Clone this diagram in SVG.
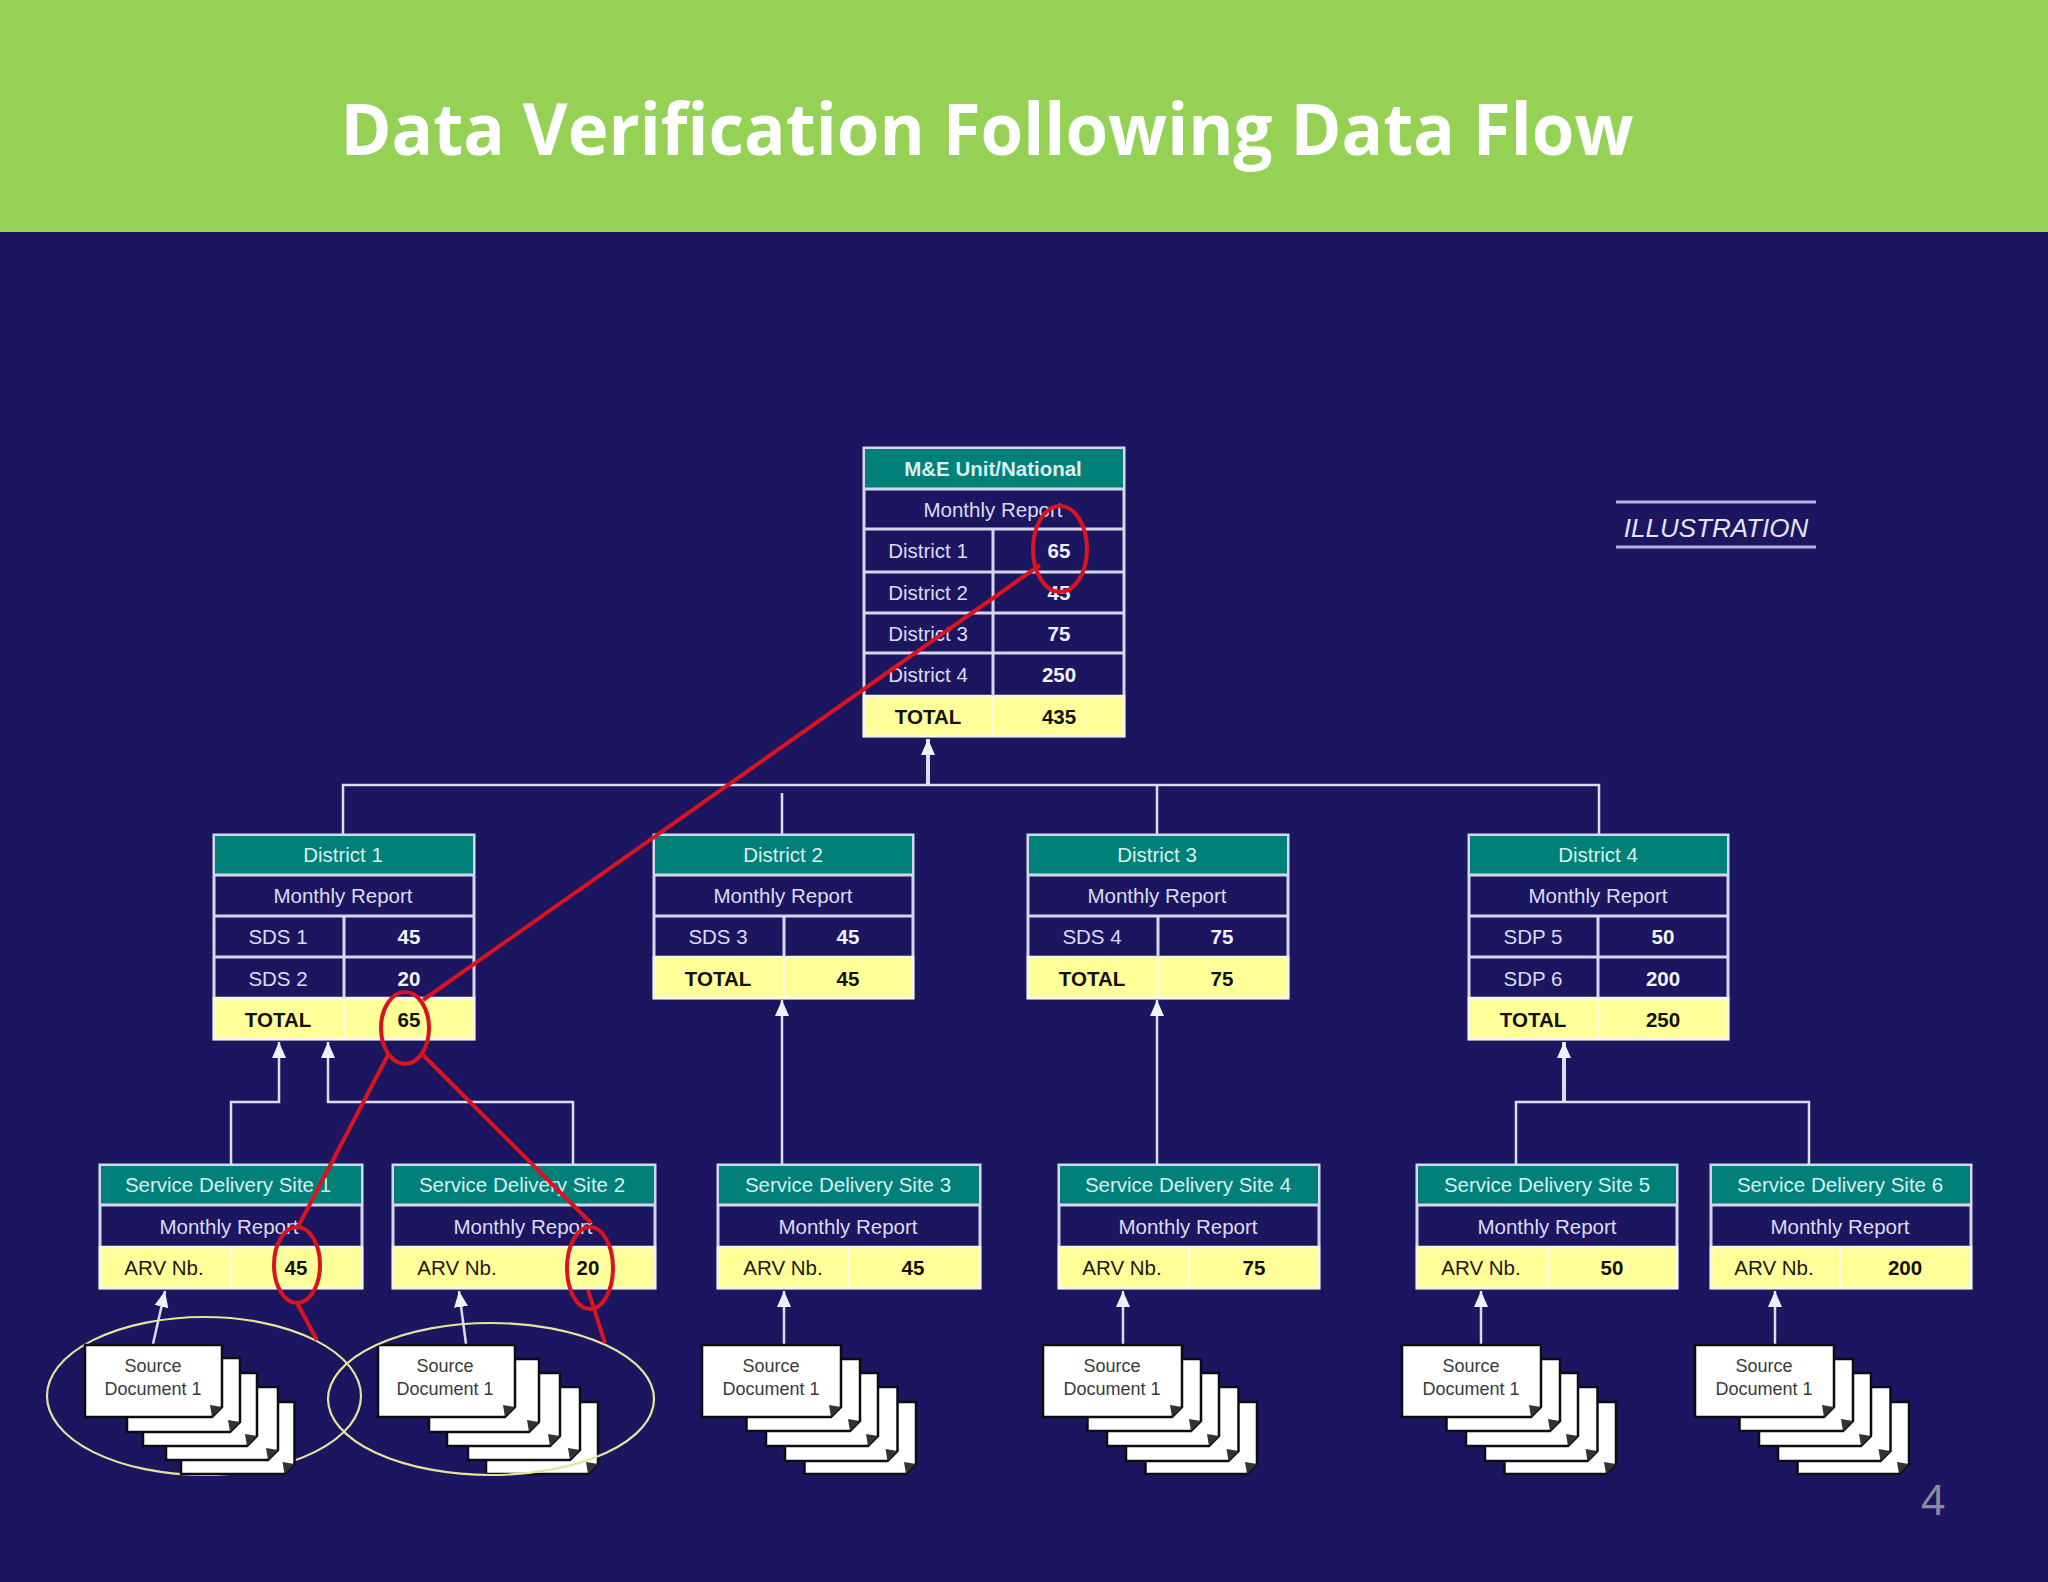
<svg xmlns="http://www.w3.org/2000/svg" width="2048" height="1582" viewBox="0 0 2048 1582">
<style>
text{font-family:"Liberation Sans",Arial,sans-serif;font-size:20.5px;text-anchor:middle;fill:#dcdcf0}
.b{font-weight:bold;fill:#f2f2fa}
.k{fill:#1a1a10}
.kb{font-weight:bold;fill:#111108}
.d{font-size:18px;fill:#3a3a3a}
.hd{fill:#d8f0ee}
.head{fill:#008078}
.yel{fill:#ffff99;stroke:#f6f6ea;stroke-width:2.5}
.frame{fill:#1c1660;stroke:#d6d6ec;stroke-width:3}
.grid{fill:none;stroke:#d6d6ec;stroke-width:3}
.ygrid{fill:none;stroke:#fbfbe4;stroke-width:2}
.sheet{fill:#fff;stroke:#0c0c14;stroke-width:2.5}
.ear{fill:#333}
.conn{fill:none;stroke:#dcdcf2;stroke-width:2.5}
.thick{stroke-width:4}
.red{fill:none;stroke:#d81420;stroke-width:4}
.oval{fill:none;stroke:#e6e49c;stroke-width:2.2}
</style>
<defs>
<marker id="arrow" markerUnits="userSpaceOnUse" markerWidth="17" markerHeight="16" refX="16" refY="8" orient="auto" viewBox="0 0 17 16"><path d="M16 8L0 1V15Z" fill="#f0f0fa"/></marker>
<g id="stack-std">
<path class="sheet" d="M102.500 57H214V119L204 129H102.500Z"/><path class="ear" d="M214 119L204 129L202 117Z"/>
<path class="sheet" d="M83 42H195.500V106L185.500 116H83Z"/><path class="ear" d="M195.500 106L185.500 116L183.500 104Z"/>
<path class="sheet" d="M64 28H176V91L166 101H64Z"/><path class="ear" d="M176 91L166 101L164 89Z"/>
<path class="sheet" d="M44.500 14H158V76L148 86H44.500Z"/><path class="ear" d="M158 76L148 86L146 74Z"/>
<path class="sheet" d="M0 0H139V62L129 72H0Z"/><path class="ear" d="M139 62L129 72L127 60Z"/>
</g>
<g id="stack-one">
<path class="sheet" d="M96 57H209.500V119L199.500 129H96Z"/><path class="ear" d="M209.500 119L199.500 129L197.500 117Z"/>
<path class="sheet" d="M81 42H193V105L183 115H81Z"/><path class="ear" d="M193 105L183 115L181 103Z"/>
<path class="sheet" d="M58 28H172V91L162 101H58Z"/><path class="ear" d="M172 91L162 101L160 89Z"/>
<path class="sheet" d="M42 13H155V77L145 87H42Z"/><path class="ear" d="M155 77L145 87L143 75Z"/>
<path class="sheet" d="M0 0H137V62L127 72H0Z"/><path class="ear" d="M137 62L127 72L125 60Z"/>
</g>
<g id="stack-two">
<path class="sheet" d="M108 57H220V119L210 129H108Z"/><path class="ear" d="M220 119L210 129L208 117Z"/>
<path class="sheet" d="M90 42H202V105L192 115H90Z"/><path class="ear" d="M202 105L192 115L190 103Z"/>
<path class="sheet" d="M69 28H182V91L172 101H69Z"/><path class="ear" d="M182 91L172 101L170 89Z"/>
<path class="sheet" d="M51 14H161V77L151 87H51Z"/><path class="ear" d="M161 77L151 87L149 75Z"/>
<path class="sheet" d="M0 0H137V62L127 72H0Z"/><path class="ear" d="M137 62L127 72L125 60Z"/>
</g>
</defs>
<rect id="background" width="2048" height="1582" fill="#1c1660"/>
<rect id="title-band" width="2048" height="232" fill="#95d155"/>
<text id="title" x="987" y="155" textLength="1293" lengthAdjust="spacingAndGlyphs" style="font-family:'Open Sans','Noto Sans',sans-serif;font-size:72px;font-weight:bold;fill:#fff">Data Verification Following Data Flow</text>

<g id="illustration">
<path d="M1616 502H1816M1616 547H1816" fill="none" stroke="#b4b4e0" stroke-width="3"/>
<text x="1716" y="537" style="font-size:26px;font-style:italic;fill:#e4e4f4">ILLUSTRATION</text>
</g>
<text id="page-number" x="1933" y="1515" style="font-family:'Noto Sans',sans-serif;font-size:42px;fill:#8c8c9c">4</text>

<g id="connectors">
<path class="conn" d="M343 834V785H1599V834M1157 785V834M782 793V834"/>
<path class="conn thick" marker-end="url(#arrow)" d="M928 785V739"/>
<path class="conn" marker-end="url(#arrow)" d="M231 1164V1102H279V1042"/>
<path class="conn" marker-end="url(#arrow)" d="M573 1164V1102H328V1042"/>
<path class="conn" marker-end="url(#arrow)" d="M782 1164V1000"/>
<path class="conn" marker-end="url(#arrow)" d="M1157 1164V1000"/>
<path class="conn" d="M1516 1164V1102H1809V1164"/>
<path class="conn thick" marker-end="url(#arrow)" d="M1564 1102V1042"/>
<path class="conn" marker-end="url(#arrow)" d="M153 1344L165 1291"/>
<path class="conn" marker-end="url(#arrow)" d="M466 1344L459 1291"/>
<path class="conn" marker-end="url(#arrow)" d="M784 1344V1291"/>
<path class="conn" marker-end="url(#arrow)" d="M1123 1344V1291"/>
<path class="conn" marker-end="url(#arrow)" d="M1481 1344V1291"/>
<path class="conn" marker-end="url(#arrow)" d="M1775 1344V1291"/>
</g>

<g id="national">
<rect class="frame" x="864" y="448" width="260" height="288"/>
<rect class="head" x="865" y="449" width="258" height="40"/>
<rect class="yel" x="864" y="696" width="260" height="40"/>
<path class="grid" d="M864 489H1124M864 529H1124M864 572H1124M864 613H1124M864 653H1124M993 529V696"/>
<path class="ygrid" d="M993 696V736"/>
<text class="b hd" x="993" y="476">M&amp;E Unit/National</text>
<text x="993" y="517">Monthly Report</text>
<text x="928" y="558">District 1</text><text class="b" x="1059" y="558">65</text>
<text x="928" y="600">District 2</text><text class="b" x="1059" y="600">45</text>
<text x="928" y="641">District 3</text><text class="b" x="1059" y="641">75</text>
<text x="928" y="682">District 4</text><text class="b" x="1059" y="682">250</text>
<text class="kb" x="928" y="724">TOTAL</text><text class="kb" x="1059" y="724">435</text>
</g>

<g id="district-1">
<rect class="frame" x="214" y="835" width="260" height="204"/>
<rect class="head" x="215" y="836" width="258" height="39"/>
<rect class="yel" x="214" y="998" width="260" height="41"/>
<path class="grid" d="M214 875H474M214 916H474M214 957H474M344 916V998"/>
<path class="ygrid" d="M344 998V1039"/>
<text class="hd" x="343" y="862">District 1</text>
<text x="343" y="903">Monthly Report</text>
<text x="278" y="944">SDS 1</text><text class="b" x="409" y="944">45</text>
<text x="278" y="986">SDS 2</text><text class="b" x="409" y="986">20</text>
<text class="kb" x="278" y="1027">TOTAL</text><text class="kb" x="409" y="1027">65</text>
</g>

<g id="district-2">
<rect class="frame" x="654" y="835" width="259" height="163"/>
<rect class="head" x="655" y="836" width="257" height="39"/>
<rect class="yel" x="654" y="957" width="259" height="41"/>
<path class="grid" d="M654 875H913M654 916H913M784 916V957"/>
<path class="ygrid" d="M784 957V998"/>
<text class="hd" x="783" y="862">District 2</text>
<text x="783" y="903">Monthly Report</text>
<text x="718" y="944">SDS 3</text><text class="b" x="848" y="944">45</text>
<text class="kb" x="718" y="986">TOTAL</text><text class="kb" x="848" y="986">45</text>
</g>

<g id="district-3">
<rect class="frame" x="1028" y="835" width="260" height="163"/>
<rect class="head" x="1029" y="836" width="258" height="39"/>
<rect class="yel" x="1028" y="957" width="260" height="41"/>
<path class="grid" d="M1028 875H1288M1028 916H1288M1158 916V957"/>
<path class="ygrid" d="M1158 957V998"/>
<text class="hd" x="1157" y="862">District 3</text>
<text x="1157" y="903">Monthly Report</text>
<text x="1092" y="944">SDS 4</text><text class="b" x="1222" y="944">75</text>
<text class="kb" x="1092" y="986">TOTAL</text><text class="kb" x="1222" y="986">75</text>
</g>

<g id="district-4">
<rect class="frame" x="1469" y="835" width="259" height="204"/>
<rect class="head" x="1470" y="836" width="257" height="39"/>
<rect class="yel" x="1469" y="998" width="259" height="41"/>
<path class="grid" d="M1469 875H1728M1469 916H1728M1469 957H1728M1598 916V998"/>
<path class="ygrid" d="M1598 998V1039"/>
<text class="hd" x="1598" y="862">District 4</text>
<text x="1598" y="903">Monthly Report</text>
<text x="1533" y="944">SDP 5</text><text class="b" x="1663" y="944">50</text>
<text x="1533" y="986">SDP 6</text><text class="b" x="1663" y="986">200</text>
<text class="kb" x="1533" y="1027">TOTAL</text><text class="kb" x="1663" y="1027">250</text>
</g>

<g id="site-1">
<rect class="frame" x="100" y="1165" width="262" height="123"/>
<rect class="head" x="101" y="1166" width="260" height="39"/>
<rect class="yel" x="100" y="1247" width="262" height="41"/>
<path class="grid" d="M100 1205H362"/>
<path class="ygrid" d="M231 1247V1288"/>
<text class="hd" x="228" y="1192">Service Delivery Site 1</text>
<text x="229" y="1234">Monthly Report</text>
<text class="k" x="164" y="1275">ARV Nb.</text><text class="kb" x="296" y="1275">45</text>
</g>
<g id="site-2">
<rect class="frame" x="393" y="1165" width="262" height="123"/>
<rect class="head" x="394" y="1166" width="260" height="39"/>
<rect class="yel" x="393" y="1247" width="262" height="41"/>
<path class="grid" d="M393 1205H655"/>
<text class="hd" x="522" y="1192">Service Delivery Site 2</text>
<text x="523" y="1234">Monthly Report</text>
<text class="k" x="457" y="1275">ARV Nb.</text><text class="kb" x="588" y="1275">20</text>
</g>
<g id="site-3">
<rect class="frame" x="718" y="1165" width="262" height="123"/>
<rect class="head" x="719" y="1166" width="260" height="39"/>
<rect class="yel" x="718" y="1247" width="262" height="41"/>
<path class="grid" d="M718 1205H980"/>
<path class="ygrid" d="M849 1247V1288"/>
<text class="hd" x="848" y="1192">Service Delivery Site 3</text>
<text x="848" y="1234">Monthly Report</text>
<text class="k" x="783" y="1275">ARV Nb.</text><text class="kb" x="913" y="1275">45</text>
</g>
<g id="site-4">
<rect class="frame" x="1059" y="1165" width="260" height="123"/>
<rect class="head" x="1060" y="1166" width="258" height="39"/>
<rect class="yel" x="1059" y="1247" width="260" height="41"/>
<path class="grid" d="M1059 1205H1319"/>
<path class="ygrid" d="M1189 1247V1288"/>
<text class="hd" x="1188" y="1192">Service Delivery Site 4</text>
<text x="1188" y="1234">Monthly Report</text>
<text class="k" x="1122" y="1275">ARV Nb.</text><text class="kb" x="1254" y="1275">75</text>
</g>
<g id="site-5">
<rect class="frame" x="1417" y="1165" width="260" height="123"/>
<rect class="head" x="1418" y="1166" width="258" height="39"/>
<rect class="yel" x="1417" y="1247" width="260" height="41"/>
<path class="grid" d="M1417 1205H1677"/>
<path class="ygrid" d="M1548 1247V1288"/>
<text class="hd" x="1547" y="1192">Service Delivery Site 5</text>
<text x="1547" y="1234">Monthly Report</text>
<text class="k" x="1481" y="1275">ARV Nb.</text><text class="kb" x="1612" y="1275">50</text>
</g>
<g id="site-6">
<rect class="frame" x="1711" y="1165" width="260" height="123"/>
<rect class="head" x="1712" y="1166" width="258" height="39"/>
<rect class="yel" x="1711" y="1247" width="260" height="41"/>
<path class="grid" d="M1711 1205H1971"/>
<path class="ygrid" d="M1840 1247V1288"/>
<text class="hd" x="1840" y="1192">Service Delivery Site 6</text>
<text x="1840" y="1234">Monthly Report</text>
<text class="k" x="1774" y="1275">ARV Nb.</text><text class="kb" x="1905" y="1275">200</text>
</g>

<ellipse class="oval" id="oval-1" cx="204" cy="1396" rx="157" ry="79"/>
<g id="docs-1"><use href="#stack-one" x="85" y="1345"/><text class="d" x="153" y="1372">Source</text><text class="d" x="153" y="1395">Document 1</text></g>
<g id="docs-2"><use href="#stack-two" x="378" y="1345"/><text class="d" x="445" y="1372">Source</text><text class="d" x="445" y="1395">Document 1</text></g>
<ellipse class="oval" id="oval-2" cx="491" cy="1399" rx="163" ry="76"/>
<g id="docs-3"><use href="#stack-std" x="702" y="1345"/><text class="d" x="771" y="1372">Source</text><text class="d" x="771" y="1395">Document 1</text></g>
<g id="docs-4"><use href="#stack-std" x="1043" y="1345"/><text class="d" x="1112" y="1372">Source</text><text class="d" x="1112" y="1395">Document 1</text></g>
<g id="docs-5"><use href="#stack-std" x="1402" y="1345"/><text class="d" x="1471" y="1372">Source</text><text class="d" x="1471" y="1395">Document 1</text></g>
<g id="docs-6"><use href="#stack-std" x="1695" y="1345"/><text class="d" x="1764" y="1372">Source</text><text class="d" x="1764" y="1395">Document 1</text></g>

<g id="verification-trace">
<ellipse class="red" cx="1060" cy="549" rx="27" ry="43"/>
<ellipse class="red" cx="405" cy="1028" rx="24" ry="36"/>
<ellipse class="red" cx="297" cy="1265" rx="23" ry="38"/>
<ellipse class="red" cx="590" cy="1268" rx="23" ry="41"/>
<path class="red" d="M1040 565L423 1000M388 1055L299 1225M423 1055L591 1223M297 1303L317 1340M588 1290L605 1343"/>
</g>
</svg>
